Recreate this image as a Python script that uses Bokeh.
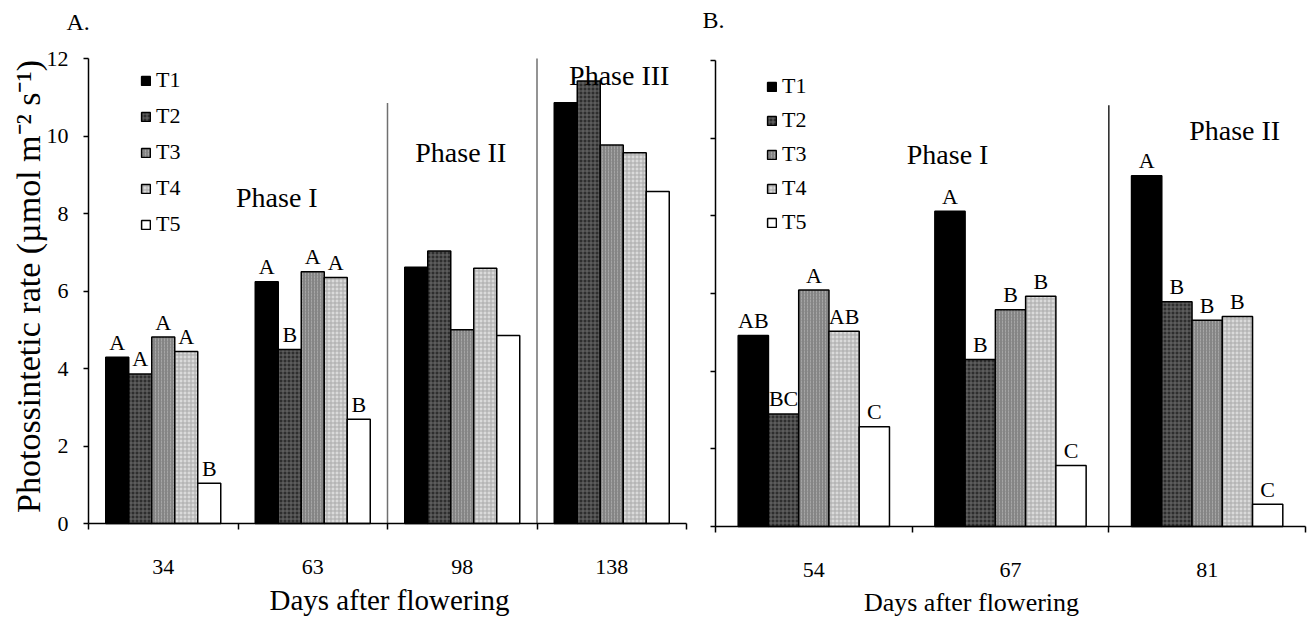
import math
from bokeh.plotting import figure
from bokeh.layouts import row
from bokeh.models import (FixedTicker, SingleIntervalTicker, Legend, LegendItem,
                          Label, Range1d, ColumnDataSource)
from bokeh.core.properties import value
from bokeh.embed import file_html
from bokeh.resources import INLINE

# ---------------- data ----------------
treatments = ["T1", "T2", "T3", "T4", "T5"]

days_a = ["34", "63", "98", "138"]
a_t1 = [4.29, 6.24, 6.61, 10.86]
a_t2 = [3.86, 4.49, 7.03, 11.42]
a_t3 = [4.81, 6.50, 5.00, 9.77]
a_t4 = [4.44, 6.35, 6.59, 9.57]
a_t5 = [1.04, 2.69, 4.85, 8.57]
a_let_t1 = ["A", "A", "", ""]
a_let_t2 = ["A", "B", "", ""]
a_let_t3 = ["A", "A", "", ""]
a_let_t4 = ["A", "A", "", ""]
a_let_t5 = ["B", "B", "", ""]
a_phase_names = ["Phase I", "Phase II", "Phase III"]
a_phase_x = [0.76, 1.99, 3.05]
a_phase_y = [8.41, 9.57, 11.56]
a_div_x = [1.5, 2.5]
a_div_top = [10.85, 12.0]

days_b = ["54", "67", "81"]
b_t1 = [4.92, 8.12, 9.03]
b_t2 = [2.90, 4.30, 5.79]
b_t3 = [6.09, 5.58, 5.31]
b_t4 = [5.03, 5.93, 5.41]
b_t5 = [2.57, 1.57, 0.57]
b_let_t1 = ["AB", "A", "A"]
b_let_t2 = ["BC", "B", "B"]
b_let_t3 = ["A", "B", "B"]
b_let_t4 = ["AB", "B", "B"]
b_let_t5 = ["C", "C", "C"]
b_phase_names = ["Phase I", "Phase II"]
b_phase_x = [0.68, 2.14]
b_phase_y = [9.59, 10.2]
b_div_x = [1.5]
b_div_top = [10.85]

y_label = "Photossintetic rate (\u00b5mol m\u207b\u00b2 s\u207b\u00b9)"
x_label = "Days after flowering"

# ---------------- styles ----------------
SERIF = "Liberation Serif"
H = 617
LABEL_SHIFT = 9  # screen-label baseline correction
styles = {
    "T1": dict(fill_color="#000000"),
    "T2": dict(fill_color="#2e2e2e", hatch_pattern="+", hatch_color="#6a6a6a",
               hatch_scale=4, hatch_weight=1),
    "T3": dict(fill_color="#858585", hatch_pattern=":", hatch_color="#a5a5a5",
               hatch_scale=3, hatch_weight=1),
    "T4": dict(fill_color="#dadada", hatch_pattern="+", hatch_color="#a9a9a9",
               hatch_scale=4, hatch_weight=1),
    "T5": dict(fill_color="#ffffff"),
}
n_ser = len(treatments)
bar_w = 1.0 / (n_ser + 1.5)


def make_panel(days, series, letters, phase_names, phase_x, phase_y, div_x, div_top,
               width, px_left, px_right, py_top, py_bottom, show_ylabels, div_color,
               legend_loc, legend_spacing, xlabel_pos, xlabel_size, panel_tag, tag_pos):
    n = len(days)
    # pixel geometry of the plotting area -> ranges of a frame that fills the figure
    sx = (px_right - px_left) / n
    x0 = -0.5 - px_left / sx
    x1 = n - 0.5 + (width - px_right) / sx
    sy = (py_bottom - py_top) / 12.0
    y0 = -(H - py_bottom) / sy
    y1 = 12 + py_top / sy

    p = figure(width=width, height=H, x_range=Range1d(x0, x1),
               y_range=Range1d(y0, y1), output_backend="svg", toolbar_location=None,
               title=None, min_border_left=0, min_border_right=0,
               min_border_top=0, min_border_bottom=0)
    p.outline_line_color = None
    p.xgrid.visible = False
    p.ygrid.visible = False

    p.segment(x0=div_x, y0=[0] * len(div_x), x1=div_x, y1=div_top,
              line_color=div_color, line_width=1.5)

    items = []
    for j, t in enumerate(treatments):
        xs = [i + (j - (n_ser - 1) / 2) * bar_w for i in range(n)]
        src = ColumnDataSource(dict(x=xs, top=series[j]))
        r = p.vbar(x="x", top="top", width=bar_w, bottom=0, source=src,
                   line_color="black", line_width=1.5, **styles[t])
        items.append(LegendItem(label=t, renderers=[r]))
        lx = [x for x, l in zip(xs, letters[j]) if l]
        ly = [v for v, l in zip(series[j], letters[j]) if l]
        lt = [l for l in letters[j] if l]
        if lt:
            p.text(x=lx, y=ly, text=lt, y_offset=-15, text_align="center",
                   text_baseline="alphabetic", text_font=value(SERIF),
                   text_font_size="22px", text_color="black")

    p.text(x=phase_x, y=phase_y, text=phase_names, text_align="center",
           text_baseline="alphabetic", text_font=value(SERIF),
           text_font_size="28px", text_color="black")

    # x axis
    xa = p.xaxis[0]
    xa.fixed_location = 0
    xa.bounds = (-0.5, n - 0.5)
    xa.ticker = FixedTicker(ticks=list(range(n)),
                            minor_ticks=[i - 0.5 for i in range(n + 1)])
    xa.major_label_overrides = {i: d for i, d in enumerate(days)}
    xa.major_tick_out = 0
    xa.major_tick_in = 0
    xa.minor_tick_out = 6
    xa.minor_tick_in = 0
    xa.minor_tick_line_width = 1.5
    xa.minor_tick_line_color = "black"
    xa.axis_line_width = 1.5
    xa.axis_line_color = "black"
    xa.major_label_standoff = 30
    xa.major_label_text_font = SERIF
    xa.major_label_text_font_size = "22px"
    xa.major_label_text_color = "black"

    ya = p.yaxis[0]
    ya.fixed_location = -0.5
    ya.bounds = (0, 12)
    ya.ticker = SingleIntervalTicker(interval=2, num_minor_ticks=0)
    ya.major_tick_out = 5
    ya.major_tick_in = 0
    ya.minor_tick_out = 0
    ya.minor_tick_in = 0
    ya.major_tick_line_width = 1.5
    ya.major_tick_line_color = "black"
    ya.axis_line_width = 1.5
    ya.axis_line_color = "black"
    ya.major_label_text_font = SERIF
    ya.major_label_text_font_size = "22px"
    ya.major_label_standoff = 15
    ya.major_label_text_color = "black" if show_ylabels else None

    legend = Legend(items=items, location=legend_loc, padding=0, margin=0,
                    spacing=legend_spacing, glyph_width=11, glyph_height=11,
                    label_height=20, label_standoff=5,
                    label_text_font=SERIF, label_text_font_size="22px",
                    label_text_color="black",
                    background_fill_alpha=0, border_line_alpha=0)
    p.add_layout(legend)

    p.add_layout(Label(x=xlabel_pos[0], y=H - xlabel_pos[1] + LABEL_SHIFT,
                       x_units="screen", y_units="screen",
                       text=x_label, text_align="center", text_baseline="alphabetic",
                       text_font=SERIF, text_font_size=xlabel_size, text_color="black"))
    p.add_layout(Label(x=tag_pos[0], y=H - tag_pos[1] + LABEL_SHIFT,
                       x_units="screen", y_units="screen",
                       text=panel_tag, text_align="left", text_baseline="alphabetic",
                       text_font=SERIF, text_font_size="24px", text_color="black"))
    return p


pA = make_panel(days_a, [a_t1, a_t2, a_t3, a_t4, a_t5],
                [a_let_t1, a_let_t2, a_let_t3, a_let_t4, a_let_t5],
                a_phase_names, a_phase_x, a_phase_y, a_div_x, a_div_top,
                width=700, px_left=88, px_right=686, py_top=58, py_bottom=523,
                show_ylabels=True, div_color="#707070",
                legend_loc=(140, 380), legend_spacing=10,
                xlabel_pos=(389, 608), xlabel_size="29px", panel_tag="A.", tag_pos=(66, 30))
pA.add_layout(Label(x=28, y=H - 286, x_units="screen", y_units="screen", text=y_label,
                    angle=math.pi / 2, text_align="center", text_baseline="middle",
                    text_font=SERIF, text_font_size="34px", text_color="black"))

pB = make_panel(days_b, [b_t1, b_t2, b_t3, b_t4, b_t5],
                [b_let_t1, b_let_t2, b_let_t3, b_let_t4, b_let_t5],
                b_phase_names, b_phase_x, b_phase_y, b_div_x, b_div_top,
                width=609, px_left=15, px_right=605, py_top=60, py_bottom=526,
                show_ylabels=False, div_color="#222222",
                legend_loc=(66, 382), legend_spacing=8,
                xlabel_pos=(271, 611), xlabel_size="26px", panel_tag="B.", tag_pos=(2, 28))

layout = row(pA, pB)
open("out.html", "w").write(file_html(layout, INLINE))
